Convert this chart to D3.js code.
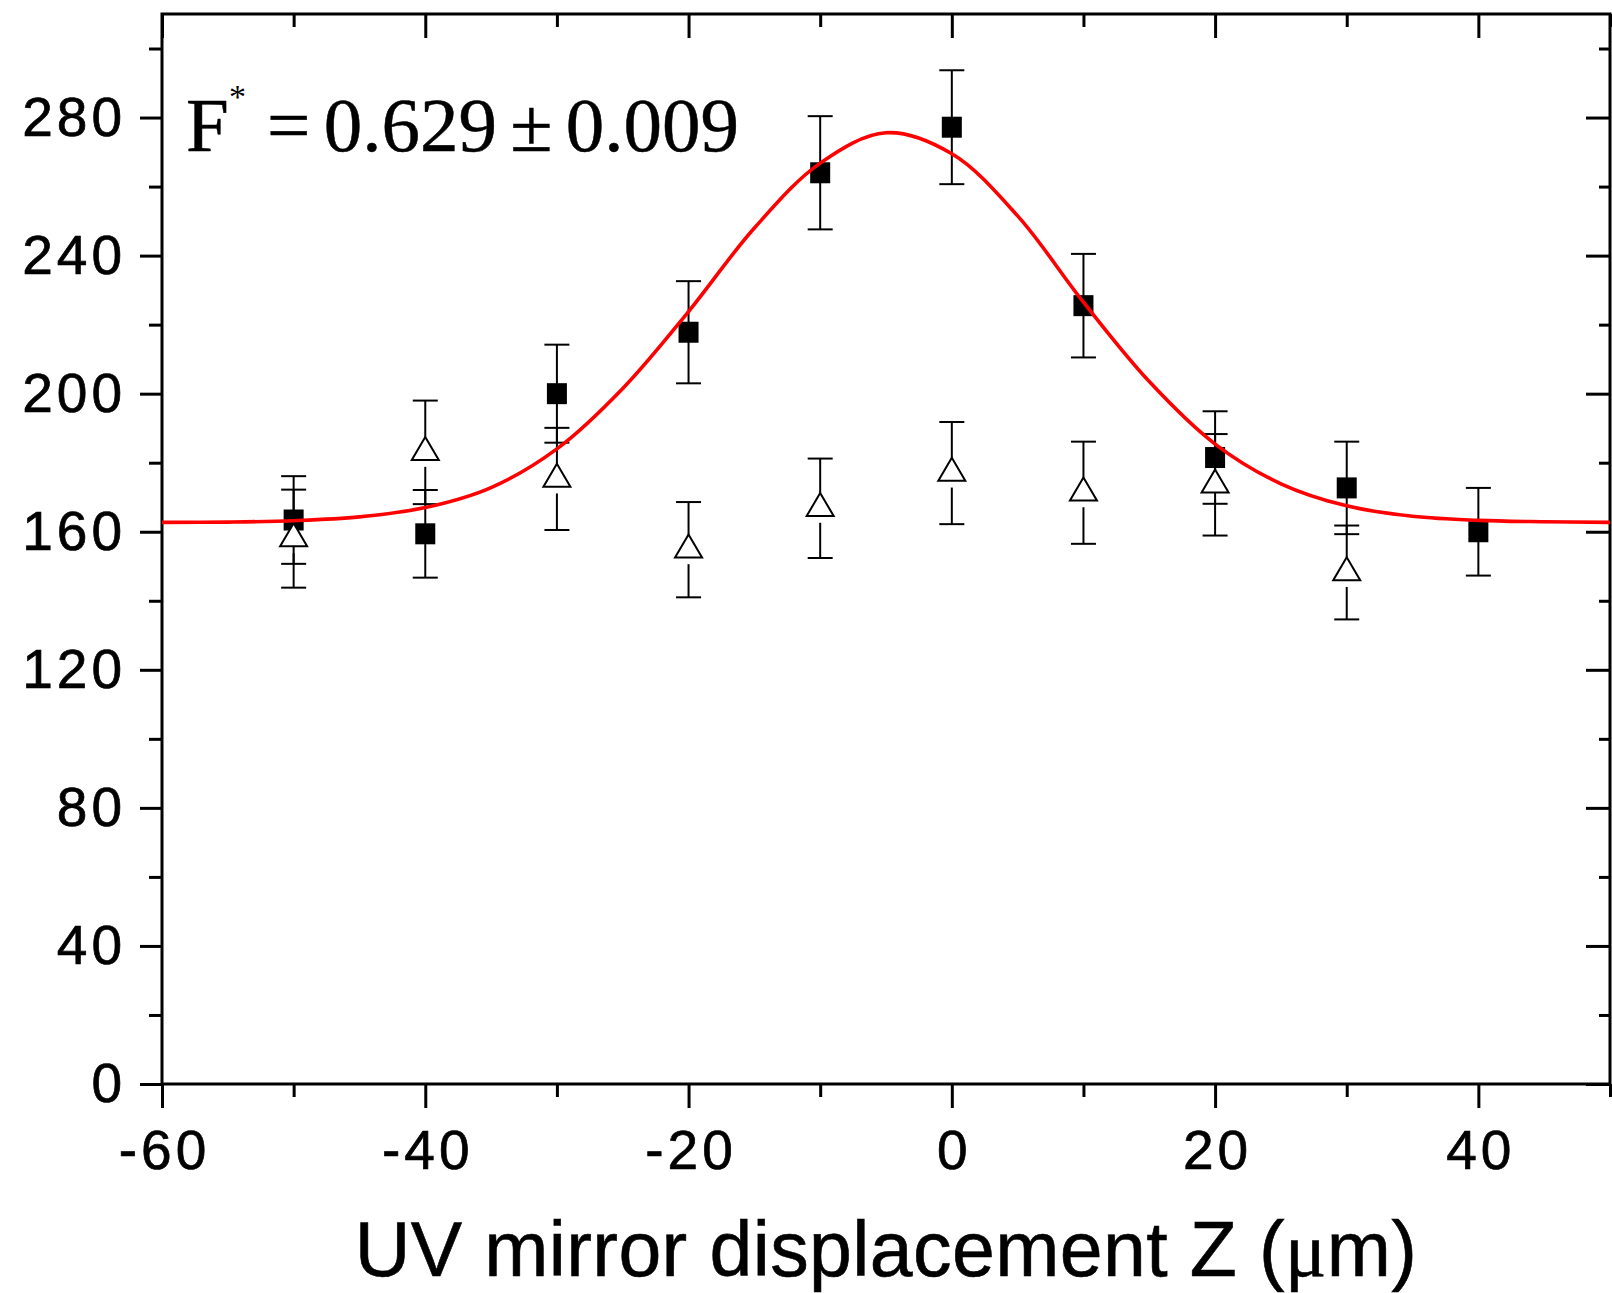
<!DOCTYPE html>
<html>
<head>
<meta charset="utf-8">
<script src="https://cdn.jsdelivr.net/npm/d3@7"></script>
<style>
  body { margin: 0; background: #fff; }
  svg { display: block; }
</style>
</head>
<body>
<script>
// filled squares
var sqX = [-50, -40, -30, -20, -10, 0, 10, 20, 30, 40];
var sqY = [163.4, 159.4, 200, 217.8, 264, 277.2, 225.5, 181.5, 172.7, 160];
var sqErr = [12.7, 12.7, 14.2, 14.8, 16.4, 16.5, 15, 13.4, 13.4, 12.7];

// open triangles
var triX = [-50, -40, -30, -20, -10, 0, 10, 20, 30];
var triY = [158, 183, 175.3, 154.8, 166.8, 177, 171.3, 173.6, 148.2];
var triErr = [14.2, 15, 14.8, 13.8, 14.4, 14.8, 14.8, 14.7, 13.6];

// red fit curve
var fitX = [-60, -55, -50, -45, -40, -35, -30, -25, -20, -15, -10, -5, 0, 5, 10, 15, 20, 25, 30, 35, 40, 45, 50];
var fitY = [162.7, 162.8, 163.2, 164.3, 167, 172.8, 184, 201.5, 223.8, 248, 266.8, 275.6, 269.5, 251.5, 226.5, 203.5, 185.4, 173.9, 167.5, 164.5, 163.3, 162.9, 162.7];

var xMajor = [-60, -40, -20, 0, 20, 40];
var xMinor = [-50, -30, -10, 10, 30, 50];
var yMajor = [0, 40, 80, 120, 160, 200, 240, 280];
var yMinor = [20, 60, 100, 140, 180, 220, 260, 300];

var width = 1612, height = 1293;
var margin = {top: 14, right: 2, bottom: 209, left: 162};
var x0 = margin.left, x1 = width - margin.right,
    y0 = margin.top, y1 = height - margin.bottom;

var svg = d3.select("body").append("svg")
    .attr("width", width)
    .attr("height", height);

var x = d3.scaleLinear().domain([-60, 50]).range([x0, x1]);
var y = d3.scaleLinear().domain([0, 310]).range([y1, y0]);

function styleAxis(g) {
    g.select(".domain").remove();
    g.selectAll(".tick line").attr("stroke", "#000").attr("stroke-width", 3);
}

function styleLabels(sel) {
    sel.attr("font-family", "Liberation Sans, Arial, sans-serif")
        .attr("font-size", 55)
        .attr("letter-spacing", 4)
        .attr("fill", "#000")
        .attr("stroke", "#000")
        .attr("stroke-width", 0.7);
}

// bottom axis
svg.append("g").attr("transform", "translate(0," + y1 + ")")
    .call(d3.axisBottom(x).tickValues(xMajor).tickSize(24).tickPadding(22).tickFormat(function(d) { return String(d); }))
    .call(styleAxis)
    .selectAll("text")
    .call(styleLabels)
    .attr("dx", 2);
svg.append("g").attr("transform", "translate(0," + y1 + ")")
    .call(d3.axisBottom(x).tickValues(xMinor).tickSize(13).tickFormat(""))
    .call(styleAxis);

// top axis, ticks inward
svg.append("g").attr("transform", "translate(0," + y0 + ")")
    .call(d3.axisTop(x).tickValues(xMajor).tickSize(-24).tickFormat(""))
    .call(styleAxis);
svg.append("g").attr("transform", "translate(0," + y0 + ")")
    .call(d3.axisTop(x).tickValues(xMinor).tickSize(-13).tickFormat(""))
    .call(styleAxis);

// left axis
svg.append("g").attr("transform", "translate(" + x0 + ",0)")
    .call(d3.axisLeft(y).tickValues(yMajor).tickSize(22).tickPadding(14))
    .call(styleAxis)
    .selectAll("text")
    .call(styleLabels);
svg.append("g").attr("transform", "translate(" + x0 + ",0)")
    .call(d3.axisLeft(y).tickValues(yMinor).tickSize(13).tickFormat(""))
    .call(styleAxis);

// right axis, ticks inward
svg.append("g").attr("transform", "translate(" + x1 + ",0)")
    .call(d3.axisRight(y).tickValues(yMajor).tickSize(-24).tickFormat(""))
    .call(styleAxis);
svg.append("g").attr("transform", "translate(" + x1 + ",0)")
    .call(d3.axisRight(y).tickValues(yMinor).tickSize(-11).tickFormat(""))
    .call(styleAxis);

// frame
svg.append("rect")
    .attr("x", x0).attr("y", y0)
    .attr("width", x1 - x0).attr("height", y1 - y0)
    .attr("fill", "none").attr("stroke", "#000").attr("stroke-width", 3);

var squares = sqX.map(function(d, i) { return {x: d, y: sqY[i], e: sqErr[i]}; });
var triangles = triX.map(function(d, i) { return {x: d, y: triY[i], e: triErr[i]}; });

var capW = 12.5;

// square error bars
var sqBars = svg.append("g").attr("stroke", "#000").attr("stroke-width", 2);
squares.forEach(function(d) {
    var cx = x(d.x);
    sqBars.append("line").attr("x1", cx).attr("x2", cx).attr("y1", y(d.y + d.e)).attr("y2", y(d.y - d.e));
    sqBars.append("line").attr("x1", cx - capW).attr("x2", cx + capW).attr("y1", y(d.y + d.e)).attr("y2", y(d.y + d.e));
    sqBars.append("line").attr("x1", cx - capW).attr("x2", cx + capW).attr("y1", y(d.y - d.e)).attr("y2", y(d.y - d.e));
});

// squares
svg.append("g").selectAll("rect")
    .data(squares)
    .enter()
    .append("rect")
    .attr("x", function(d) { return x(d.x) - 10; })
    .attr("y", function(d) { return y(d.y) - 10.5; })
    .attr("width", 20)
    .attr("height", 21)
    .attr("fill", "#000");

// triangle error bars, with a gap around the symbol
var triBars = svg.append("g").attr("stroke", "#000").attr("stroke-width", 2);
triangles.forEach(function(d) {
    var cx = x(d.x), cy = y(d.y);
    triBars.append("line").attr("x1", cx).attr("x2", cx).attr("y1", y(d.y + d.e)).attr("y2", cy - 15);
    triBars.append("line").attr("x1", cx).attr("x2", cx).attr("y1", cy + 14.5).attr("y2", y(d.y - d.e));
    triBars.append("line").attr("x1", cx - capW).attr("x2", cx + capW).attr("y1", y(d.y + d.e)).attr("y2", y(d.y + d.e));
    triBars.append("line").attr("x1", cx - capW).attr("x2", cx + capW).attr("y1", y(d.y - d.e)).attr("y2", y(d.y - d.e));
});

// open triangles
svg.append("g").selectAll("path")
    .data(triangles)
    .enter()
    .append("path")
    .attr("transform", function(d) { return "translate(" + x(d.x) + "," + y(d.y) + ")"; })
    .attr("d", "M0,-15.3L13.5,7.7L-13.5,7.7Z")
    .attr("fill", "#fff")
    .attr("stroke", "#000")
    .attr("stroke-width", 2);

// fit curve
var line = d3.line()
    .x(function(d, i) { return x(fitX[i]); })
    .y(function(d) { return y(d); })
    .curve(d3.curveCatmullRom.alpha(0.5));

svg.append("path")
    .datum(fitY)
    .attr("d", line)
    .attr("fill", "none")
    .attr("stroke", "#ff0000")
    .attr("stroke-width", 3.6);

// annotation
var serif = "Liberation Serif, Times New Roman, serif";
svg.append("text")
    .attr("x", 186).attr("y", 151)
    .attr("font-family", serif)
    .attr("font-size", 77)
    .attr("stroke", "#000").attr("stroke-width", 0.5)
    .text("F");
svg.append("text")
    .attr("x", 229).attr("y", 108)
    .attr("font-family", serif)
    .attr("font-size", 34)
    .text("*");
svg.append("text")
    .attr("x", 267).attr("y", 151)
    .attr("font-family", serif)
    .attr("font-size", 77)
    .attr("word-spacing", -6)
    .attr("stroke", "#000").attr("stroke-width", 0.5)
    .text("= 0.629 \u00b1 0.009");

// x axis title
var title = svg.append("text")
    .attr("x", (x0 + x1) / 2).attr("y", 1276)
    .attr("text-anchor", "middle")
    .attr("font-family", "Liberation Sans, Arial, sans-serif")
    .attr("font-size", 77)
    .attr("letter-spacing", 0.4)
    .attr("stroke", "#000").attr("stroke-width", 0.6);
title.append("tspan").text("UV mirror displacement Z (");
title.append("tspan").attr("font-family", serif).text("\u03bc");
title.append("tspan").text("m)");
</script>
</body>
</html>
